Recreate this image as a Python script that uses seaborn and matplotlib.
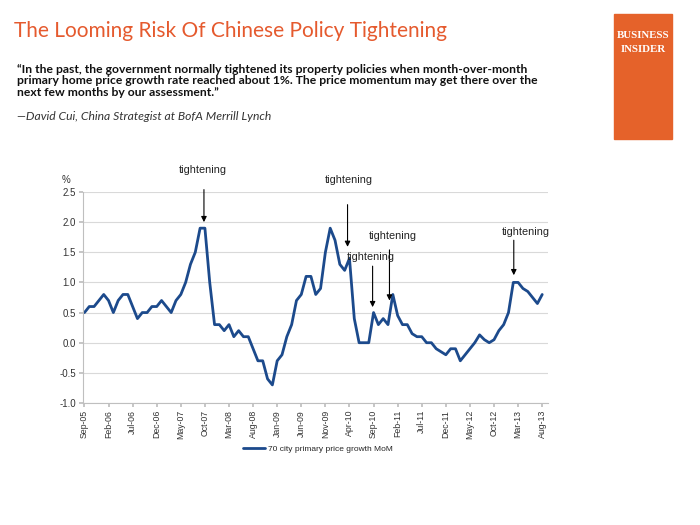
import numpy as np
import pandas as pd
import matplotlib.pyplot as plt
import seaborn as sns

# Monthly 70-city primary home price growth, MoM %, Sep-05 .. Aug-13
growth = [
    0.5, 0.6, 0.6, 0.7,                                      # 2005 Sep-Dec
    0.8, 0.7, 0.5, 0.7, 0.8, 0.8, 0.6, 0.4, 0.5, 0.5, 0.6, 0.6,  # 2006
    0.7, 0.6, 0.5, 0.7, 0.8, 1.0, 1.3, 1.5, 1.9, 1.9, 1.0, 0.3,  # 2007
    0.3, 0.2, 0.3, 0.1, 0.2, 0.1, 0.1, -0.1, -0.3, -0.3, -0.6, -0.7,  # 2008
    -0.3, -0.2, 0.1, 0.3, 0.7, 0.8, 1.1, 1.1, 0.8, 0.9, 1.5, 1.9,  # 2009
    1.7, 1.3, 1.2, 1.4, 0.4, 0.0, 0.0, 0.0, 0.5, 0.3, 0.4, 0.3,  # 2010
    0.8, 0.45, 0.3, 0.3, 0.15, 0.1, 0.1, 0.0, 0.0, -0.1, -0.15, -0.2,  # 2011
    -0.1, -0.1, -0.3, -0.2, -0.1, 0.0, 0.13, 0.05, 0.0, 0.05, 0.2, 0.3,  # 2012
    0.5, 1.0, 1.0, 0.9, 0.85, 0.75, 0.65, 0.8,               # 2013 Jan-Aug
]
tick_labels = ["Sep-05", "Feb-06", "Jul-06", "Dec-06", "May-07", "Oct-07",
               "Mar-08", "Aug-08", "Jan-09", "Jun-09", "Nov-09", "Apr-10",
               "Sep-10", "Feb-11", "Jul-11", "Dec-11", "May-12", "Oct-12",
               "Mar-13", "Aug-13"]
y_ticks = [-1.0, -0.5, 0.0, 0.5, 1.0, 1.5, 2.0, 2.5]

title = "The Looming Risk Of Chinese Policy Tightening"
quote = ("\u201cIn the past, the government normally tightened its property policies when month-over-month\n"
         "primary home price growth rate reached about 1%. The price momentum may get there over the\n"
         "next few months by our assessment.\u201d")
source = "\u2014David Cui, China Strategist at BofA Merrill Lynch"
series_name = "70 city primary price growth MoM"

df = pd.DataFrame({"month": np.arange(len(growth)), "growth": growth})

sns.set_theme(style="white")
plt.rcParams["font.family"] = ["Liberation Sans", "DejaVu Sans"]

fig = plt.figure(figsize=(7, 5.25), dpi=100)
ax = fig.add_axes([83 / 700, 1 - 403 / 525, 465 / 700, 211 / 525])

sns.lineplot(data=df, x="month", y="growth", ax=ax, color="#1c4a8c",
             linewidth=2, label=series_name, legend=False)

ax.set_xlim(-0.3, 96.2)
ax.set_ylim(-1.0, 2.5)
ax.set_yticks(y_ticks)
ax.set_yticklabels([f"{v:.1f}" for v in y_ticks], fontsize=7, color="#333333")
ax.set_xticks(np.arange(0, len(growth), 5))
ax.set_xticklabels(tick_labels, rotation=90, fontsize=6.3, color="#333333")
ax.set_xlabel("")
ax.set_ylabel("")
ax.yaxis.grid(True, color="#d9d9d9", linewidth=0.8)
ax.set_axisbelow(True)
for side in ["top", "right"]:
    ax.spines[side].set_visible(False)
for side in ["left", "bottom"]:
    ax.spines[side].set_color("#bfbfbf")
    ax.spines[side].set_linewidth(0.8)
ax.tick_params(axis="both", length=3, color="#bfbfbf", pad=2)
ax.tick_params(axis="x", bottom=True)
ax.tick_params(axis="y", left=True)

fig.text(62 / 700, 1 - 180 / 525, "%", fontsize=7, color="#333333",
         ha="left", va="center")

# tightening annotations: (text x, text y, arrow x, arrow tail y, arrow tip y)
notes = [(24.5, 2.87, 24.8, 2.54, 2.0),
         (54.8, 2.70, 54.6, 2.29, 1.59),
         (63.9, 1.77, 63.3, 1.54, 0.70),
         (59.5, 1.42, 59.8, 1.27, 0.59),
         (91.5, 1.84, 89.1, 1.70, 1.12)]
for tx, ty, axx, tail, tip in notes:
    ax.text(tx, ty, "tightening", fontsize=7.8, ha="center", va="center",
            color="#222222", clip_on=False)
    ax.annotate("", xy=(axx, tip), xytext=(axx, tail),
                arrowprops=dict(arrowstyle="-|>", color="black", lw=0.8,
                                mutation_scale=8, shrinkA=0, shrinkB=0))

leg = fig.legend(handles=ax.get_lines()[:1], labels=[series_name],
                 loc="center", bbox_to_anchor=(318 / 700, 1 - 449 / 525),
                 frameon=False, fontsize=6, handlelength=2.6,
                 handletextpad=0.3)

# header
fig.text(14 / 700, 1 - 31 / 525, title, fontsize=15, color="#e55a2e",
         ha="left", va="center", family=["Lato", "DejaVu Sans"])
fig.text(17 / 700, 1 - 81 / 525, quote, fontsize=8.75, color="#111111",
         ha="left", va="center", fontweight="bold", linespacing=1.05,
         family=["Lato", "DejaVu Sans"])
fig.text(17 / 700, 1 - 116 / 525, source, fontsize=8.7, color="#333333",
         ha="left", va="center", style="italic",
         family=["Lato", "DejaVu Sans"])

# Business Insider badge
fig.patches.append(plt.Rectangle((614 / 700, 1 - 139 / 525), 58 / 700, 125 / 525,
                                 transform=fig.transFigure, color="#e5622a",
                                 zorder=0))
fig.text(643 / 700, 1 - 36 / 525, "BUSINESS", fontsize=7.8, color="white",
         ha="center", va="center", fontweight="bold",
         family=["Liberation Serif", "DejaVu Serif"])
fig.text(643 / 700, 1 - 50 / 525, "INSIDER", fontsize=7.8, color="white",
         ha="center", va="center", fontweight="bold",
         family=["Liberation Serif", "DejaVu Serif"])

fig.savefig("out.png", dpi=100)
